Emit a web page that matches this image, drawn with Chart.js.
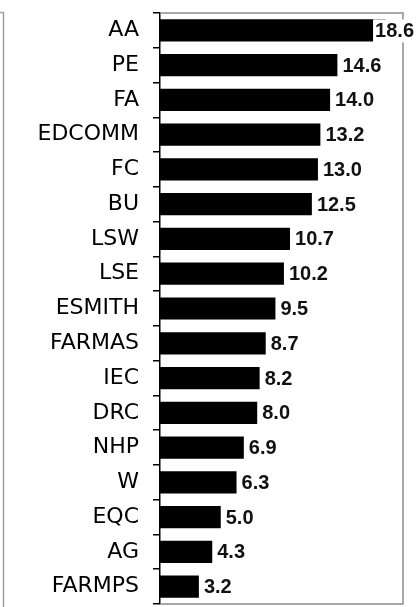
<!DOCTYPE html>
<html>
<head>
<meta charset="utf-8">
<script src="https://cdn.jsdelivr.net/npm/chart.js@4.4.1/dist/chart.umd.min.js"></script>
<style>
  html, body { margin: 0; padding: 0; background: #fff; }
  #wrap { width: 416px; height: 607px; }
</style>
</head>
<body>
<div id="wrap"><canvas id="c" width="416" height="607"></canvas></div>
<script>
const categories = ["AA", "PE", "FA", "EDCOMM", "FC", "BU", "LSW", "LSE", "ESMITH", "FARMAS", "IEC", "DRC", "NHP", "W", "EQC", "AG", "FARMPS"];
const values = [18.6, 14.6, 14.0, 13.2, 13.0, 12.5, 10.7, 10.2, 9.5, 8.7, 8.2, 8.0, 6.9, 6.3, 5.0, 4.3, 3.2];
const valueLabels = ["18.6", "14.6", "14.0", "13.2", "13.0", "12.5", "10.7", "10.2", "9.5", "8.7", "8.2", "8.0", "6.9", "6.3", "5.0", "4.3", "3.2"];
const xMin = 0;
const xMax = 20;

const framePlugin = {
  id: 'frame',
  beforeDatasetsDraw(chart) {
    const { ctx, chartArea: a } = chart;
    ctx.save();
    ctx.strokeStyle = '#8c8c8c';
    ctx.lineWidth = 1.5;
    ctx.beginPath();
    ctx.moveTo(a.left, a.top);
    ctx.lineTo(a.right, a.top);
    ctx.lineTo(a.right, a.bottom);
    ctx.lineTo(a.left, a.bottom);
    ctx.stroke();
    // outer frame left edge
    ctx.strokeStyle = '#a0a0a0';
    ctx.beginPath();
    ctx.moveTo(0, 12.5);
    ctx.lineTo(3.5, 12.5);
    ctx.lineTo(3.5, chart.height);
    ctx.stroke();
    ctx.restore();
  }
};

const labelPlugin = {
  id: 'valueLabels',
  afterDatasetsDraw(chart) {
    const { ctx } = chart;
    const meta = chart.getDatasetMeta(0);
    ctx.save();
    ctx.font = 'bold 20px "Liberation Sans", Arial, sans-serif';
    ctx.textBaseline = 'middle';
    ctx.textAlign = 'left';
    meta.data.forEach((bar, i) => {
      const txt = valueLabels[i];
      const w = ctx.measureText(txt).width;
      let x = bar.x + 5;
      if (x + w > chart.width - 2) x = chart.width - 2 - w;
      ctx.fillStyle = '#fff';
      ctx.fillRect(x - 2, bar.y - 11, w + 4, 23);
      ctx.fillStyle = '#111';
      ctx.fillText(txt, x, bar.y + 1);
    });
    ctx.restore();
  }
};

new Chart(document.getElementById('c'), {
  type: 'bar',
  data: {
    labels: categories,
    datasets: [{
      data: values,
      backgroundColor: '#000',
      borderColor: '#000',
      borderWidth: 0,
      categoryPercentage: 1,
      barPercentage: 0.64
    }]
  },
  options: {
    indexAxis: 'y',
    responsive: false,
    animation: false,
    layout: { padding: { top: 13, right: 13, bottom: 3, left: 0 } },
    plugins: { legend: { display: false }, tooltip: { enabled: false } },
    scales: {
      x: { display: false, min: xMin, max: xMax },
      y: {
        afterFit(scale) {
          scale.width = 160;
          scale.paddingTop = 0;
          scale.paddingBottom = 0;
        },
        border: { display: true, color: '#000', width: 1.5 },
        grid: { display: true, drawOnChartArea: false, drawTicks: true, tickLength: 7, color: '#000', lineWidth: 1.5 },
        ticks: {
          color: '#000',
          padding: 14,
          font: { family: '"DejaVu Sans", Verdana, sans-serif', size: 22 }
        }
      }
    }
  },
  plugins: [framePlugin, labelPlugin]
});
</script>
</body>
</html>
